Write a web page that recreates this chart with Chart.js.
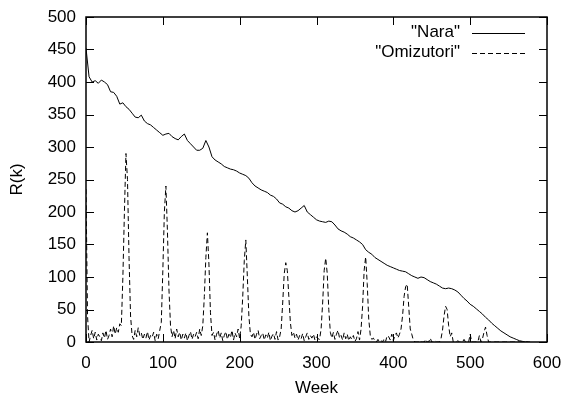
<!DOCTYPE html>
<html>
<head>
<meta charset="utf-8">
<script src="https://cdn.jsdelivr.net/npm/chart.js@4.4.1/dist/chart.umd.min.js"></script>
<style>
  html, body { margin: 0; padding: 0; background: #ffffff; }
  #wrap { width: 562px; height: 397px; position: relative; }
</style>
</head>
<body>
<div id="wrap"><canvas id="c" width="562" height="397"></canvas></div>
<script>
// ---- data ----
const seriesNames = ['"Nara"', '"Omizutori"'];
const xTicks = [0, 100, 200, 300, 400, 500, 600];
const yTicks = [0, 50, 100, 150, 200, 250, 300, 350, 400, 450, 500];
const xTitle = 'Week';
const yTitle = 'R(k)';

// Nara: one value every 4 weeks, weeks 0..576
const naraStep = 4;
const naraValues = [
  452, 408, 400, 402, 398, 403, 400, 396, 385, 384,
  378, 366, 368, 362, 358, 352, 346, 345, 349, 340,
  336, 334, 330, 326, 322, 318, 320, 321, 316, 313,
  311, 316, 320, 310, 305, 300, 295, 295, 298, 310,
  300, 285, 280, 277, 274, 270, 268, 266, 265, 263,
  260, 258, 256, 252, 245, 240, 237, 234, 232, 230,
  226, 224, 220, 214, 212, 208, 206, 202, 200, 202,
  206, 210, 200, 196, 192, 188, 186, 185, 184, 186,
  185, 180, 174, 171, 169, 166, 162, 160, 157, 154,
  150, 142, 138, 135, 130, 127, 124, 121, 118, 116,
  114, 112, 110, 109, 108, 105, 102, 100, 98, 100,
  99, 96, 93, 91, 89, 86, 83, 82, 83, 82,
  80, 77, 72, 67, 63, 58, 55, 51, 47, 43,
  38, 34, 29, 25, 21, 17, 14, 11, 8, 6,
  4, 2, 1, 0, 0
];

// Omizutori: one value every 2 weeks, weeks 0..578
const omiStep = 2;
const omiValues = [
  235, 40, 0, 10, 18, 5, 15, 3, 12, 8,
  2, 14, 6, 18, 4, 10, 20, 8, 25, 12,
  22, 15, 28, 25, 100, 200, 290, 250, 130, 40,
  10, 4, 18, 8, 22, 10, 14, 4, 12, 6,
  16, 3, 10, 7, 15, 2, 12, 5, 18, 30,
  110, 200, 240, 170, 80, 25, 8, 18, 5, 20,
  8, 15, 3, 12, 6, 14, 2, 10, 16, 4,
  12, 8, 15, 5, 20, 10, 25, 70, 130, 168,
  120, 45, 10, 15, 3, 12, 18, 6, 14, 2,
  10, 16, 4, 12, 7, 18, 3, 14, 8, 20,
  5, 25, 70, 125, 157, 100, 40, 12, 8, 15,
  4, 12, 18, 5, 10, 14, 3, 11, 6, 15,
  2, 9, 13, 4, 16, 3, 8, 20, 60, 105,
  122, 110, 70, 30, 10, 15, 6, 12, 3, 10,
  5, 13, 2, 8, 14, 4, 10, 6, 12, 3,
  8, 5, 4, 20, 60, 110, 129, 105, 50, 15,
  6, 15, 4, 12, 18, 6, 10, 3, 14, 5,
  12, 2, 8, 4, 10, 1, 5, 16, 3, 20,
  55, 110, 131, 90, 35, 10, 4, 6, 2, 0,
  4, 0, 2, 0, 5, 1, 10, 8, 3, 12,
  2, 10, 14, 6, 12, 20, 40, 70, 85, 89,
  55, 20, 12, 3, 0, 0, 0, 2, 0, 0,
  0, 4, 0, 0, 6, 0, 0, 2, 0, 0,
  0, 5, 18, 40, 55, 50, 25, 8, 14, 0,
  0, 0, 2, 0, 0, 0, 4, 0, 0, 0,
  12, 0, 0, 0, 0, 0, 10, 0, 5, 15,
  23, 10, 0, 0, 0, 0, 0, 0, 0, 0,
  0, 0, 0, 0, 0, 0, 0, 0, 0, 0,
  0, 0, 0, 0, 0, 0, 0, 0, 0, 0
];

const naraData = naraValues.map((v, i) => ({ x: i * naraStep, y: v }));
const omiData = omiValues.map((v, i) => ({ x: i * omiStep, y: v }));

const FONT = 'Liberation Sans, Arial, Helvetica, sans-serif';
const FSIZE = 17;

// gnuplot-like frame, inward mirrored ticks and key
const frame = {
  id: 'gnuframe',
  afterDraw(chart) {
    const ctx = chart.ctx;
    const a = chart.chartArea;
    const xs = chart.scales.x, ys = chart.scales.y;
    const tl = 8;
    ctx.save();
    ctx.strokeStyle = '#000';
    ctx.lineWidth = 1;
    ctx.beginPath();
    xTicks.forEach(t => {
      const px = Math.round(xs.getPixelForValue(t)) + 0.5;
      ctx.moveTo(px, a.bottom); ctx.lineTo(px, a.bottom - tl);
      ctx.moveTo(px, a.top); ctx.lineTo(px, a.top + tl);
    });
    yTicks.forEach(t => {
      const py = Math.round(ys.getPixelForValue(t)) + 0.5;
      ctx.moveTo(a.left, py); ctx.lineTo(a.left + tl, py);
      ctx.moveTo(a.right, py); ctx.lineTo(a.right - tl, py);
    });
    ctx.stroke();
    ctx.lineWidth = 1.5;
    ctx.strokeRect(a.left, a.top, a.right - a.left, a.bottom - a.top);

    // key
    ctx.font = FSIZE + 'px ' + FONT;
    ctx.fillStyle = '#000';
    ctx.textAlign = 'right';
    ctx.textBaseline = 'alphabetic';
    const textRight = a.right - 87;
    const lx0 = a.right - 75, lx1 = a.right - 22;
    const rows = [a.top + 16, a.top + 35.5];
    chart.data.datasets.forEach((ds, i) => {
      const yy = rows[i];
      ctx.fillText(ds.label, textRight, yy + 4);
      ctx.lineWidth = 1;
      ctx.setLineDash(ds.borderDash || []);
      ctx.beginPath();
      ctx.moveTo(lx0, Math.round(yy) + 0.5);
      ctx.lineTo(lx1, Math.round(yy) + 0.5);
      ctx.stroke();
      ctx.setLineDash([]);
    });
    ctx.restore();
  }
};

new Chart(document.getElementById('c'), {
  type: 'line',
  data: {
    datasets: [
      { label: seriesNames[0], data: naraData, borderColor: '#000', borderWidth: 1,
        pointRadius: 0, tension: 0, fill: false },
      { label: seriesNames[1], data: omiData, borderColor: '#000', borderWidth: 1,
        borderDash: [5, 3], pointRadius: 0, tension: 0, fill: false }
    ]
  },
  options: {
    responsive: false,
    animation: false,
    events: [],
    layout: { padding: { left: 0, right: 15, top: 17, bottom: 0 } },
    plugins: { legend: { display: false }, tooltip: { enabled: false } },
    scales: {
      x: {
        type: 'linear', min: 0, max: 600,
        afterBuildTicks: s => { s.ticks = xTicks.map(v => ({ value: v })); },
        afterFit: s => { s.height = 55; s.paddingLeft = 0; s.paddingRight = 0; },
        grid: { display: false, drawTicks: false },
        border: { display: false },
        ticks: { color: '#000', padding: 11, maxRotation: 0,
                 font: { family: FONT, size: FSIZE } },
        title: { display: true, text: xTitle, color: '#000', padding: { top: 0, bottom: 0 },
                 font: { family: FONT, size: FSIZE, lineHeight: 1 } }
      },
      y: {
        type: 'linear', min: 0, max: 500,
        afterBuildTicks: s => { s.ticks = yTicks.map(v => ({ value: v })); },
        afterFit: s => { s.width = 86; s.paddingTop = 0; s.paddingBottom = 0; },
        grid: { display: false, drawTicks: false },
        border: { display: false },
        ticks: { color: '#000', padding: 10,
                 font: { family: FONT, size: FSIZE } },
        title: { display: true, text: yTitle, color: '#000', padding: { top: 9, bottom: 0 },
                 font: { family: FONT, size: FSIZE, lineHeight: 1 } }
      }
    }
  },
  plugins: [frame]
});
</script>
</body>
</html>
